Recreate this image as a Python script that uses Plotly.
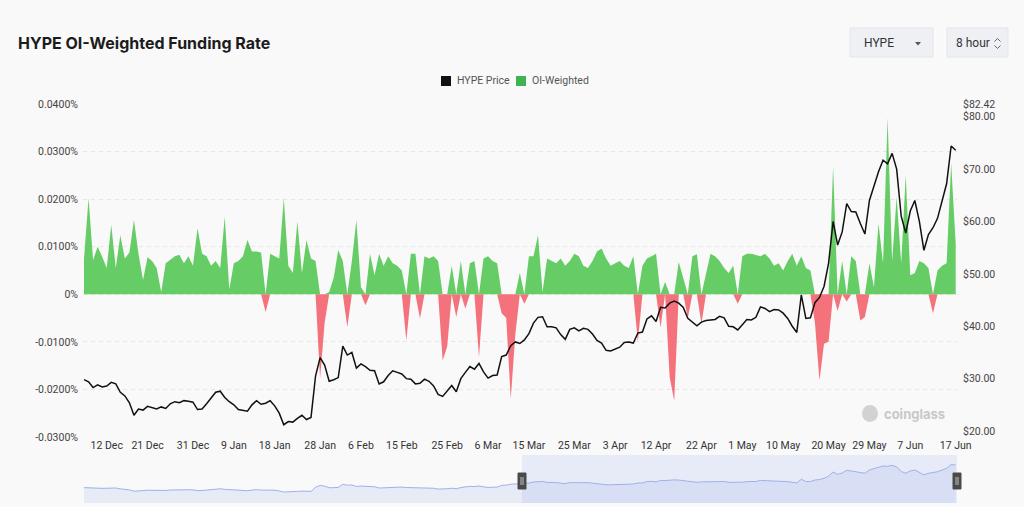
import numpy as np
import pandas as pd
import plotly.graph_objects as go

# ---------------- data ----------------
dates = pd.date_range("2025-12-07", "2026-06-17", freq="D")

price = [
    29.8, 29.4, 28.3, 28.8, 28.4, 28.6, 29.3, 29.0, 27.4, 26.7,
    25.4, 23.0, 24.2, 24.0, 24.7, 24.4, 24.2, 24.6, 24.3, 25.2,
    25.6, 25.4, 25.8, 25.7, 25.5, 24.1, 24.2, 25.2, 26.3, 27.4,
    27.6, 26.4, 25.6, 25.0, 24.1, 24.0, 23.8, 25.0, 25.8, 25.1,
    25.3, 25.8, 24.8, 23.4, 21.2, 21.8, 21.7, 22.4, 23.0, 22.2,
    22.6, 30.5, 34.0, 32.6, 29.5, 29.8, 30.2, 36.2, 34.5, 35.0,
    32.0, 32.8, 32.3, 31.6, 31.5, 29.0, 29.4, 30.6, 31.5, 31.2,
    30.9, 30.0, 29.9, 29.0, 29.1, 29.9, 29.5, 28.6, 27.0, 26.6,
    27.6, 28.7, 27.5, 30.0, 31.2, 32.3, 31.8, 32.9, 31.3, 30.1,
    30.6, 30.7, 34.2, 34.5, 36.3, 37.0, 36.7, 37.4, 38.6, 40.6,
    41.7, 41.8, 39.9, 39.9, 39.7, 38.4, 37.5, 39.4, 39.7, 39.1,
    39.6, 39.4, 38.5, 37.3, 36.8, 35.4, 35.3, 35.6, 36.0, 36.9,
    37.0, 36.8, 38.7, 38.9, 41.4, 42.0, 40.9, 43.6, 43.5, 44.4,
    44.8, 44.4, 43.6, 41.5, 40.8, 40.1, 40.8, 41.1, 41.2, 41.3,
    41.9, 41.6, 40.0, 39.9, 39.3, 40.3, 41.3, 41.2, 41.7, 43.7,
    43.4, 42.8, 43.2, 43.1, 42.5, 41.5, 40.0, 38.8, 46.0, 41.5,
    41.6, 44.5, 45.5, 47.6, 52.0, 60.0, 55.5, 58.0, 63.4, 61.9,
    61.8, 59.6, 57.6, 64.0, 67.0, 69.5, 71.7, 71.0, 73.0, 70.0,
    61.0, 57.8, 62.0, 64.0, 60.0, 54.5, 57.5, 58.8, 60.6, 63.8,
    67.2, 74.4, 73.6,
]

funding = [
    0.0075, 0.0202, 0.0072, 0.0100, 0.0079, 0.0055, 0.0146, 0.0055, 0.0124, 0.0075,
    0.0088, 0.0156, 0.0085, 0.0030, 0.0078, 0.0070, 0.0055, 0.0005, 0.0065, 0.0072,
    0.0080, 0.0083, 0.0065, 0.0080, 0.0060, 0.0139, 0.0085, 0.0080, 0.0060, 0.0070,
    0.0055, 0.0163, 0.0010, 0.0065, 0.0070, 0.0080, 0.0114, 0.0090, 0.0090, 0.0088,
    -0.0037, 0.0085, 0.0080, 0.0075, 0.0202, 0.0060, 0.0045, 0.0153, 0.0045, 0.0114,
    0.0075, 0.0070, -0.0177, -0.0060, 0.0005, 0.0035, 0.0093, 0.0070, -0.0069, 0.0070,
    0.0156, 0.0015, -0.0023, 0.0085, 0.0040, 0.0085, 0.0060, 0.0080, 0.0065, 0.0060,
    0.0050, -0.0097, 0.0085, 0.0085, -0.0051, 0.0080, 0.0075, 0.0080, 0.0070, -0.0139,
    -0.0110, 0.0060, -0.0048, 0.0070, -0.0030, 0.0065, 0.0070, -0.0132, 0.0075, 0.0080,
    0.0070, 0.0065, -0.0040, -0.0050, -0.0220, -0.0085, 0.0045, -0.0020, 0.0080, 0.0080,
    0.0124, 0.0005, 0.0075, 0.0070, 0.0065, 0.0075, 0.0060, 0.0070, 0.0085, 0.0080,
    0.0060, 0.0055, 0.0070, 0.0090, 0.0096, 0.0075, 0.0060, 0.0065, 0.0070, 0.0060,
    0.0055, 0.0080, -0.0100, 0.0060, 0.0075, 0.0080, 0.0085, -0.0070, 0.0026, -0.0174,
    -0.0224, 0.0068, 0.0035, -0.0050, 0.0080, 0.0084, -0.0062, 0.0045, 0.0085, 0.0080,
    0.0070, 0.0055, 0.0045, 0.0060, -0.0020, 0.0080, 0.0085, 0.0085, 0.0083, 0.0080,
    0.0085, 0.0075, 0.0060, 0.0065, 0.0050, 0.0070, 0.0085, 0.0060, 0.0080, 0.0055,
    0.0050, -0.0060, -0.0181, -0.0104, -0.0100, 0.0269, -0.0035, 0.0070, -0.0015, 0.0080,
    0.0070, -0.0055, -0.0048, 0.0065, 0.0015, 0.0149, 0.0065, 0.0371, 0.0070, 0.0205,
    0.0065, 0.0251, 0.0040, 0.0045, 0.0070, 0.0065, 0.0055, -0.0040, 0.0050, 0.0060,
    0.0065, 0.0276, 0.0107,
]

tick_dates = ["2025-12-12", "2025-12-21", "2025-12-31", "2026-01-09", "2026-01-18",
              "2026-01-28", "2026-02-06", "2026-02-15", "2026-02-25", "2026-03-06",
              "2026-03-15", "2026-03-25", "2026-04-03", "2026-04-12", "2026-04-22",
              "2026-05-01", "2026-05-10", "2026-05-20", "2026-05-29", "2026-06-07",
              "2026-06-17"]
tick_labels = ["12 Dec", "21 Dec", "31 Dec", "9 Jan", "18 Jan", "28 Jan", "6 Feb",
               "15 Feb", "25 Feb", "6 Mar", "15 Mar", "25 Mar", "3 Apr", "12 Apr",
               "22 Apr", "1 May", "10 May", "20 May", "29 May", "7 Jun", "17 Jun"]

left_ticks = [-0.03, -0.02, -0.01, 0, 0.01, 0.02, 0.03, 0.04]
left_labels = ["-0.0300%", "-0.0200%", "-0.0100%", "0%", "0.0100%", "0.0200%",
               "0.0300%", "0.0400%"]
right_ticks = [20, 30, 40, 50, 60, 70, 80, 82.42]
right_labels = ["$20.00", "$30.00", "$40.00", "$50.00", "$60.00", "$70.00",
                "$80.00", "$82.42"]

# ---------------- styling / layout helpers ----------------
W, H = 1024, 507
L, R, T, B = 83, 957, 104, 503          # plot-area pixel box (main + slider)
MAIN_BOTTOM = 437
SLIDER_TOP = 455

def px(x):
    return (x - L) / (R - L)

def py(y):
    return (B - y) / (B - T)

GREEN = "#66cd66"
RED = "#f4727c"
BG = "#f9f9f9"
XRANGE = ["2025-12-06 18:40", "2026-06-17 07:00"]

fund = np.array(funding)
pos = np.clip(fund, 0, None)
neg = np.clip(fund, None, 0)

fig = go.Figure()
fig.add_trace(go.Scatter(x=dates, y=neg, mode="lines", fill="tozeroy",
                         line=dict(color=RED, width=0), fillcolor=RED,
                         name="OI-Weighted (neg)", showlegend=False,
                         xaxis="x", yaxis="y", hoverinfo="skip"))
fig.add_trace(go.Scatter(x=dates, y=pos, mode="lines", fill="tozeroy",
                         line=dict(color=GREEN, width=0), fillcolor=GREEN,
                         name="OI-Weighted", showlegend=False,
                         xaxis="x", yaxis="y", hoverinfo="skip"))
fig.add_trace(go.Scatter(x=dates, y=price, mode="lines",
                         line=dict(color="#111111", width=1.5),
                         name="HYPE Price", showlegend=False,
                         xaxis="x", yaxis="y2"))
# data-zoom preview
fig.add_trace(go.Scatter(x=dates, y=price, mode="lines", fill="tozeroy",
                         line=dict(color="#9fb1ec", width=1),
                         fillcolor="rgba(150,170,235,0.18)",
                         showlegend=False, xaxis="x2", yaxis="y3",
                         hoverinfo="skip"))

tickfont = dict(family="Roboto", size=10.5, color="#444444")

shapes = [
    # dropdown boxes
    dict(type="rect", xref="paper", yref="paper", x0=px(850), x1=px(933),
         y0=py(57), y1=py(28), fillcolor="#eef0f3",
         line=dict(color="#e3e6ea", width=1), layer="above"),
    dict(type="rect", xref="paper", yref="paper", x0=px(947), x1=px(1008),
         y0=py(57), y1=py(28), fillcolor="#eef0f3",
         line=dict(color="#e3e6ea", width=1), layer="above"),
    dict(type="path", xref="paper", yref="paper",
         path=f"M {px(915)},{py(42)} L {px(921)},{py(42)} L {px(918)},{py(45.5)} Z",
         fillcolor="#555555", line=dict(width=0)),
    dict(type="path", xref="paper", yref="paper",
         path=f"M {px(994.5)},{py(41.5)} L {px(997.5)},{py(38.5)} L {px(1000.5)},{py(41.5)}",
         line=dict(color="#666666", width=1)),
    dict(type="path", xref="paper", yref="paper",
         path=f"M {px(994.5)},{py(45.5)} L {px(997.5)},{py(48.5)} L {px(1000.5)},{py(45.5)}",
         line=dict(color="#666666", width=1)),
    # legend squares
    dict(type="rect", xref="paper", yref="paper", x0=px(441), x1=px(451),
         y0=py(86), y1=py(76), fillcolor="#111111", line=dict(width=0)),
    dict(type="rect", xref="paper", yref="paper", x0=px(516), x1=px(526),
         y0=py(86), y1=py(76), fillcolor="#3fb34f", line=dict(width=0)),
    # slider selected window
    dict(type="rect", xref="paper", yref="paper", x0=px(522), x1=px(957),
         y0=0, y1=py(SLIDER_TOP), fillcolor="rgba(140,165,240,0.17)",
         line=dict(width=0), layer="below"),
    # slider handles
    dict(type="rect", xref="paper", yref="paper", x0=px(518), x1=px(526),
         y0=py(489), y1=py(473), fillcolor="#4a4a4a",
         line=dict(color="#4a4a4a", width=1)),
    dict(type="rect", xref="paper", yref="paper", x0=px(953), x1=px(961),
         y0=py(489), y1=py(473), fillcolor="#4a4a4a",
         line=dict(color="#4a4a4a", width=1)),
    # watermark logo
    dict(type="circle", xref="paper", yref="paper", x0=px(862), x1=px(878),
         y0=py(422), y1=py(405), fillcolor="#d2d2d2", line=dict(width=0)),
]
for hx in (521, 523, 956, 958):
    shapes.append(dict(type="line", xref="paper", yref="paper",
                       x0=px(hx), x1=px(hx), y0=py(485), y1=py(477),
                       line=dict(color="#dddddd", width=0.8)))

annotations = [
    dict(text="HYPE", x=px(862), y=py(43), xref="paper", yref="paper",
         xanchor="left", yanchor="middle", showarrow=False,
         font=dict(family="Roboto", size=12, color="#333333")),
    dict(text="8 hour", x=px(954), y=py(43), xref="paper", yref="paper",
         xanchor="left", yanchor="middle", showarrow=False,
         font=dict(family="Roboto", size=12, color="#333333")),
    dict(text="HYPE Price", x=px(455), y=py(81), xref="paper", yref="paper",
         xanchor="left", yanchor="middle", showarrow=False,
         font=dict(family="Roboto", size=10.5, color="#555555")),
    dict(text="OI-Weighted", x=px(530), y=py(81), xref="paper", yref="paper",
         xanchor="left", yanchor="middle", showarrow=False,
         font=dict(family="Roboto", size=10.5, color="#555555")),
    dict(text="<b>coinglass</b>", x=px(882), y=py(414), xref="paper", yref="paper",
         xanchor="left", yanchor="middle", showarrow=False,
         font=dict(family="Inter", size=13, color="#c8c8c8")),
]

fig.update_layout(
    width=W, height=H,
    margin=dict(l=L, r=W - R, t=T, b=H - B, pad=0, autoexpand=False),
    paper_bgcolor=BG, plot_bgcolor=BG,
    title=dict(text="<b>HYPE OI-Weighted Funding Rate</b>", x=18 / W,
               y=1 - 43 / H, xref="container", yref="container",
               xanchor="left", yanchor="middle",
               font=dict(family="Inter", size=16, color="#1c1c1c")),
    showlegend=False,
    xaxis=dict(domain=[0, 1], anchor="y", type="date", range=XRANGE,
               tickmode="array", tickvals=tick_dates, ticktext=tick_labels,
               showgrid=False, zeroline=False, showline=False, ticks="",
               automargin=False,
               tickfont=dict(family="Roboto", size=10.5, color="#333333")),
    yaxis=dict(domain=[py(MAIN_BOTTOM), 1], range=[-0.03, 0.04],
               tickmode="array", tickvals=left_ticks, ticktext=left_labels,
               showgrid=True, gridcolor="#e6e6e6", griddash="4px,4px",
               gridwidth=1, zeroline=False, showline=False, ticks="",
               automargin=False, ticklabelstandoff=4, tickfont=tickfont),
    yaxis2=dict(overlaying="y", side="right", anchor="x", range=[18.86, 82.42],
                tickmode="array", tickvals=right_ticks, ticktext=right_labels,
                showgrid=False, zeroline=False, showline=False, ticks="",
                automargin=False, ticklabelstandoff=5, tickfont=tickfont),
    xaxis2=dict(domain=[0, 1], anchor="y3", type="date", range=XRANGE,
                visible=False, showgrid=False, automargin=False),
    yaxis3=dict(domain=[0, py(SLIDER_TOP)], range=[0, 93], visible=False,
                showgrid=False, automargin=False),
    shapes=shapes,
    annotations=annotations,
    hovermode=False,
)

fig.write_html("out.html", config={"displayModeBar": False})
